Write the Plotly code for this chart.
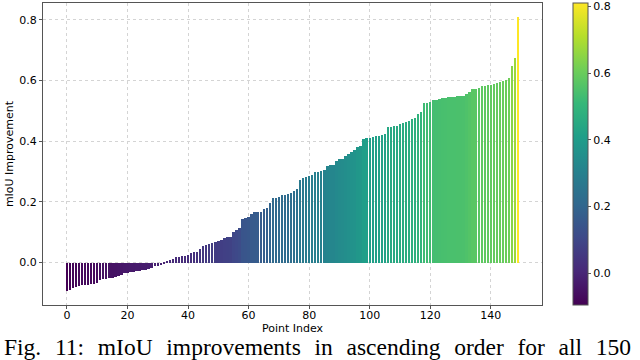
import plotly.graph_objects as go

# mIoU improvement per point, already sorted ascending
improvement = [
    -0.095, -0.090, -0.085, -0.080, -0.077, -0.074, -0.073, -0.073, -0.072, -0.072,
    -0.066, -0.058, -0.055, -0.053, -0.051, -0.050, -0.048, -0.045, -0.040, -0.036,
    -0.034, -0.031, -0.030, -0.029, -0.027, -0.026, -0.024, -0.020, -0.018, -0.013,
    -0.011, -0.008, -0.003, 0.003, 0.008, 0.012, 0.017, 0.019, 0.020, 0.021,
    0.025, 0.030, 0.034, 0.036, 0.045, 0.054, 0.058, 0.062, 0.065, 0.066,
    0.070, 0.074, 0.080, 0.083, 0.085, 0.100, 0.107, 0.115, 0.143, 0.146,
    0.150, 0.160, 0.165, 0.167, 0.168, 0.175, 0.181, 0.197, 0.213, 0.214,
    0.215, 0.222, 0.224, 0.226, 0.229, 0.234, 0.241, 0.273, 0.278, 0.283,
    0.286, 0.288, 0.297, 0.298, 0.300, 0.306, 0.318, 0.320, 0.321, 0.334,
    0.340, 0.342, 0.350, 0.357, 0.363, 0.370, 0.381, 0.385, 0.408, 0.410,
    0.411, 0.414, 0.416, 0.418, 0.420, 0.423, 0.446, 0.448, 0.450, 0.451,
    0.458, 0.460, 0.464, 0.466, 0.472, 0.476, 0.488, 0.496, 0.524, 0.526,
    0.528, 0.534, 0.537, 0.540, 0.542, 0.543, 0.546, 0.546, 0.546, 0.547,
    0.548, 0.549, 0.555, 0.563, 0.572, 0.573, 0.574, 0.582, 0.583, 0.585,
    0.586, 0.589, 0.592, 0.596, 0.598, 0.602, 0.608, 0.647, 0.674, 0.810,
]
point_index = list(range(len(improvement)))

x_ticks = [0, 20, 40, 60, 80, 100, 120, 140]
y_ticks = [0.0, 0.2, 0.4, 0.6, 0.8]

# caption is justified in the paper, so widen the word gaps a bit
gap = "\u2002\u200a"
caption = gap.join(["Fig.", "11:", "mIoU", "improvements", "in", "ascending",
                    "order", "for", "all", "150"])

vmin, vmax = min(improvement), max(improvement)

fig = go.Figure()
fig.add_trace(go.Bar(
    x=point_index, y=improvement, width=0.8,
    marker=dict(
        color=improvement, colorscale='Viridis', cmin=vmin, cmax=vmax,
        line=dict(width=0),
        showscale=True,
        colorbar=dict(
            x=1.062, xanchor='left', y=0.5, yanchor='middle', len=1,
            thickness=15, xpad=0, ypad=0,
            outlinewidth=1, outlinecolor='#555',
            tickvals=y_ticks, tickformat='.1f', ticks='outside', ticklen=3,
            tickcolor='#555',
            tickfont=dict(family='DejaVu Sans', size=11, color='black'),
        ),
    ),
    showlegend=False,
))

axis_common = dict(
    showline=True, mirror=True, linecolor='#555', linewidth=1,
    ticks='outside', ticklen=3, tickcolor='#555',
    showgrid=True, gridcolor='#d4d4d4', griddash='dot', gridwidth=1,
    zeroline=False, automargin=False,
    tickfont=dict(family='DejaVu Sans', size=11, color='black'),
)

fig.update_layout(
    width=640, height=360,
    margin=dict(l=43, r=98, t=3, b=55, autoexpand=False),
    plot_bgcolor='white', paper_bgcolor='white',
    bargap=0,
    xaxis=dict(range=[-7.9, 156.9], tickvals=x_ticks, ticklabelstandoff=-3,
               title=dict(text='Point Index', standoff=0,
                          font=dict(family='DejaVu Sans', size=11, color='black')),
               **axis_common),
    yaxis=dict(range=[-0.14, 0.855], tickvals=y_ticks, tickformat='.1f',
               title=dict(text='mIoU Improvement', standoff=3,
                          font=dict(family='DejaVu Sans', size=11, color='black')),
               **axis_common),
    annotations=[dict(
        text=caption, xref='paper', yref='paper',
        x=-0.082, xanchor='left', y=-0.14, yanchor='middle',
        showarrow=False,
        font=dict(family='Liberation Serif', size=23.5, color='black'),
    )],
)

# page has a default 8px body margin, drop it so the 640x360 figure fits the window
fig.write_html("out.html", config={'displayModeBar': False},
               post_script="document.body.style.margin='0';")
